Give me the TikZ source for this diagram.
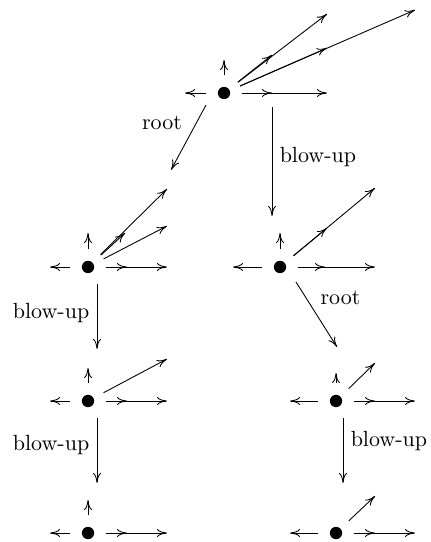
\documentclass[tikz,border=0pt]{standalone}
\usetikzlibrary{arrows.meta}
\begin{document}
\begin{tikzpicture}[x=0.455pt,y=0.455pt,
    >={To[length=4.6pt,width=3.6pt]},
    pnt/.style={circle,fill,inner sep=0pt,minimum size=5.6pt},
    ray/.style={->,shorten <=5pt},
    map/.style={->}]
    \useasboundingbox (0,0) rectangle (431,542);
    % fixed points
    \node[pnt] (t)  at (224,449) {};
    \node[pnt] (l1) at (88,275) {};
    \node[pnt] (l2) at (88,141) {};
    \node[pnt] (l3) at (88,9) {};
    \node[pnt] (r1) at (280,275) {};
    \node[pnt] (r2) at (336,141) {};
    \node[pnt] (r3) at (336,9) {};
    % rays of each fan
    \foreach \x/\y in {-39/0,0/33,48/0,103/0,48/38,103/79,103/45,191/83}
        \draw[ray] (t) -- ++(\x,\y);
    \foreach \x/\y in {-38/0,0/34,39/0,79/0,37/34,79/78,79/41}
        \draw[ray] (l1) -- ++(\x,\y);
    \foreach \x/\y in {-38/0,0/33,39/0,79/0,79/42}
        \draw[ray] (l2) -- ++(\x,\y);
    \foreach \x/\y in {-38/0,0/33,39/0,79/0}
        \draw[ray] (l3) -- ++(\x,\y);
    \foreach \x/\y in {-47/0,0/34,45/0,95/0,47/39,95/79}
        \draw[ray] (r1) -- ++(\x,\y);
    \foreach \x/\y in {-46/0,0/28,39/0,79/0,39/38}
        \draw[ray] (r2) -- ++(\x,\y);
    \foreach \x/\y in {-46/0,39/0,79/0,39/37}
        \draw[ray] (r3) -- ++(\x,\y);
    % maps between the fans
    \draw[map] ([shift={(-18,-12)}]t.center) -- ([shift={(83,97)}]l1.center)
        node[pos=0.28,left=3pt] {root};
    \draw[map] ([shift={(48,-14)}]t.center) -- ([shift={(-8,51)}]r1.center)
        node[pos=0.46,right] {blow-up};
    \draw[map] ([shift={(16,-15)}]r1.center) -- ([shift={(1,54)}]r2.center)
        node[pos=0.25,right=3pt] {root};
    \draw[map] ([shift={(9,-17)}]l1.center) -- ([shift={(9,52)}]l2.center)
        node[pos=0.45,left] {blow-up};
    \draw[map] ([shift={(9,-17)}]l2.center) -- ([shift={(9,50)}]l3.center)
        node[pos=0.42,left] {blow-up};
    \draw[map] ([shift={(7,-17)}]r2.center) -- ([shift={(7,50)}]r3.center)
        node[pos=0.35,right] {blow-up};
\end{tikzpicture}
\end{document}
